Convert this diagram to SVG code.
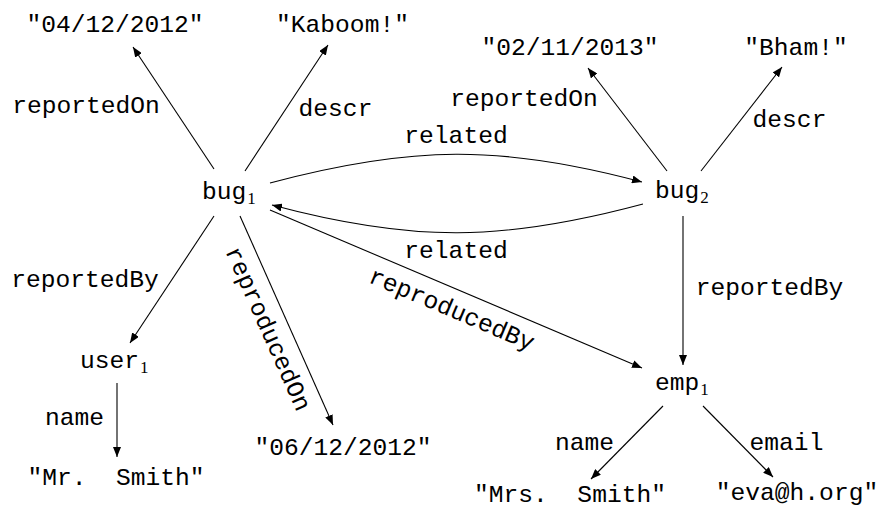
<svg xmlns="http://www.w3.org/2000/svg" width="880" height="508" viewBox="0 0 880 508">
<style>
text{font-family:"Liberation Mono","DejaVu Sans Mono",monospace;font-size:24.6px;fill:#000}
.lbl{text-anchor:middle}
.sub{font-family:"Liberation Serif","DejaVu Serif",serif;font-size:17px}
.edge{fill:none;stroke:#000;stroke-width:1.1;marker-end:url(#arr)}
</style>
<defs>
<marker id="arr" viewBox="0 0 10 8" refX="10" refY="4" markerWidth="10" markerHeight="8" markerUnits="userSpaceOnUse" orient="auto">
<path d="M0,0 L10,4 L0,8 z" fill="#000"/>
</marker>
</defs>
<rect width="880" height="508" fill="#fff"/>
<g id="connectors">
<line class="edge" x1="214" y1="169" x2="133" y2="47"/>
<line class="edge" x1="245" y1="171" x2="328" y2="45"/>
<path class="edge" d="M270,183 C410.6,145.3 501.4,144.3 642,182"/>
<path class="edge" d="M643,204 C502.4,241.7 412.6,242.7 272,205"/>
<line class="edge" x1="270" y1="210" x2="642" y2="368"/>
<line class="edge" x1="214" y1="216" x2="130" y2="343"/>
<line class="edge" x1="240" y1="216" x2="333" y2="425"/>
<line class="edge" x1="117" y1="383" x2="117" y2="457"/>
<line class="edge" x1="667" y1="171" x2="588" y2="68"/>
<line class="edge" x1="701" y1="171" x2="782" y2="67"/>
<line class="edge" x1="683" y1="216" x2="683" y2="365"/>
<line class="edge" x1="663" y1="406" x2="591" y2="479"/>
<line class="edge" x1="703" y1="406" x2="773" y2="477"/>
</g>
<g id="edge-labels">
<text class="lbl" x="86" y="113">reportedOn</text>
<text class="lbl" x="335.5" y="116">descr</text>
<text class="lbl" x="456" y="143">related</text>
<text class="lbl" x="524" y="106">reportedOn</text>
<text class="lbl" x="789.5" y="127">descr</text>
<text class="lbl" x="456" y="258">related</text>
<text class="lbl" x="85" y="287">reportedBy</text>
<text class="lbl" x="769.5" y="295">reportedBy</text>
<text class="lbl" x="74.5" y="425">name</text>
<text class="lbl" x="584.5" y="450">name</text>
<text class="lbl" x="786.5" y="450">email</text>
<text class="lbl" transform="translate(286.5,320.5) rotate(66)" x="0" y="28">reproducedOn</text>
<text class="lbl" transform="translate(456,289) rotate(23)" x="4" y="28">reproducedBy</text>
</g>
<g id="bug1"><text x="202" y="199">bug<tspan class="sub" dx="1" dy="5">1</tspan></text></g>
<g id="bug2"><text x="655" y="198">bug<tspan class="sub" dx="1" dy="5">2</tspan></text></g>
<g id="user1"><text x="80" y="368">user<tspan class="sub" dx="1" dy="5">1</tspan></text></g>
<g id="emp1"><text x="655" y="390">emp<tspan class="sub" dx="1" dy="5">1</tspan></text></g>
<g id="lit-date1"><text class="lbl" x="115" y="32">"04/12/2012"</text></g>
<g id="lit-kaboom"><text class="lbl" x="342.5" y="32">"Kaboom!"</text></g>
<g id="lit-date2"><text class="lbl" x="570" y="55">"02/11/2013"</text></g>
<g id="lit-bham"><text class="lbl" x="796" y="55">"Bham!"</text></g>
<g id="lit-date3"><text class="lbl" x="343" y="455">"06/12/2012"</text></g>
<g id="lit-mrsmith"><text class="lbl" x="116" y="485" xml:space="preserve">"Mr.  Smith"</text></g>
<g id="lit-mrssmith"><text class="lbl" x="570" y="502" xml:space="preserve">"Mrs.  Smith"</text></g>
<g id="lit-email"><text class="lbl" x="797" y="500">"eva@h.org"</text></g>
</svg>
